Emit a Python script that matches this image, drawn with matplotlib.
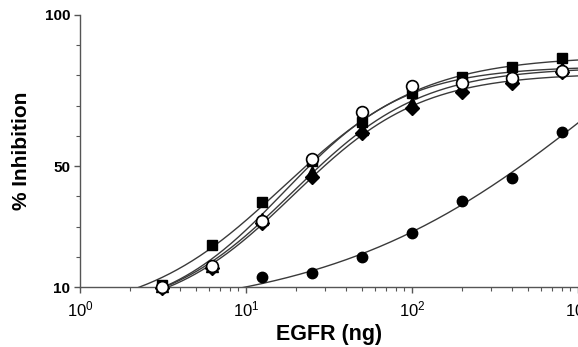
import numpy as np
import matplotlib
matplotlib.use("Agg")
import matplotlib.pyplot as plt
from matplotlib.ticker import LogLocator, FixedLocator, NullFormatter

plt.rcParams['font.family'] = ['Liberation Sans', 'DejaVu Sans']
plt.rcParams['mathtext.fontset'] = 'custom'
plt.rcParams['mathtext.rm'] = 'Liberation Sans'
plt.rcParams['mathtext.default'] = 'regular'

# EGFR amounts (ng)
egfr = [3.125, 6.25, 12.5, 25, 50, 100, 200, 400, 800]
egfr_low = [12.5, 25, 50, 100, 200, 400, 800]

# % inhibition per series
squares   = [10.8, 23.9, 38.1, 51.7, 64.6, 74.2, 79.5, 82.8, 85.8]
open_circ = [10.0, 16.8, 32.0, 52.4, 68.0, 76.6, 77.5, 79.0, 81.5]
triangles = [10.2, 17.0, 32.5, 48.0, 62.3, 70.9, 76.2, 80.0, 82.5]
diamonds  = [9.8, 16.3, 31.2, 46.4, 61.0, 69.3, 74.6, 77.5, 81.0]
filled_circ = [13.3, 14.6, 19.9, 27.9, 38.5, 46.1, 61.3]


def fit_hill(x, y, hmin, hmax, tmax):
    """Least-squares fit of a Hill curve with bottom fixed at 0."""
    x = np.asarray(x, float)
    y = np.asarray(y, float)
    le = np.arange(0.0, 4.5, 0.005)
    hs = np.arange(hmin, hmax, 0.01)
    LE, H = np.meshgrid(le, hs, indexing='ij')
    LE = LE.ravel()[:, None]
    H = H.ravel()[:, None]
    f = 1.0 / (1.0 + (10 ** LE / x[None, :]) ** H)
    t = (f * y).sum(1) / (f * f).sum(1)
    t = np.minimum(t, tmax)
    sse = ((t[:, None] * f - y[None, :]) ** 2).sum(1)
    i = np.argmin(sse)
    return t[i], 10 ** LE[i, 0], H[i, 0]


def curve(params, xs):
    t, ec, h = params
    return t / (1.0 + (ec / xs) ** h)


fig = plt.figure(figsize=(5.78, 3.47), dpi=100)
ax = fig.add_axes([0.1384, 0.1729, 0.8616, 0.7839])

xs = np.logspace(0, 3, 400)
lc = '#3a3a3a'
series = [
    (squares, egfr, (0.4, 1.2, 100), dict(marker='s', mfc='black', mec='black', ms=7)),
    (triangles, egfr, (0.4, 1.2, 100), dict(marker='^', mfc='black', mec='black', ms=8)),
    (diamonds, egfr, (0.4, 1.2, 100), dict(marker='D', mfc='black', mec='black', ms=7)),
    (open_circ, egfr, (0.4, 1.2, 100), dict(marker='o', mfc='white', mec='black', ms=8.5, mew=1.2)),
    (filled_circ, egfr_low, (0.4, 1.2, 150), dict(marker='o', mfc='black', mec='black', ms=7.5)),
]
for yv, xv, fp, st in series:
    p = fit_hill(xv, yv, *fp)
    ax.plot(xs, curve(p, xs), color=lc, lw=1.0, zorder=2)
for yv, xv, fp, st in series:
    ax.plot(xv, yv, linestyle='none', zorder=3, clip_on=False, **st)

ax.set_xscale('log')
ax.set_xlim(1, 1000)
ax.set_ylim(10, 100)

ax.spines['top'].set_visible(False)
ax.spines['right'].set_visible(False)
for s in ('left', 'bottom'):
    ax.spines[s].set_color('#555555')
    ax.spines[s].set_linewidth(1.0)

ax.xaxis.set_major_locator(LogLocator(base=10, numticks=10))
ax.xaxis.set_minor_locator(LogLocator(base=10, subs=np.arange(2, 10), numticks=20))
ax.xaxis.set_minor_formatter(NullFormatter())
ax.yaxis.set_major_locator(FixedLocator([10, 50, 100]))
ax.yaxis.set_minor_locator(FixedLocator([20, 30, 40, 60, 70, 80, 90]))

ax.tick_params(axis='both', which='major', direction='out', length=4, width=1, color='#555555')
ax.tick_params(axis='both', which='minor', direction='out', length=3, width=0.8, color='#555555')
ax.tick_params(axis='x', which='major', labelsize=12, pad=5)
ax.tick_params(axis='y', which='major', labelsize=11, pad=3)
for lab in ax.get_yticklabels():
    lab.set_fontweight('bold')

ax.set_xlabel('EGFR (ng)', fontsize=15.5, fontweight='bold', labelpad=3)
ax.set_ylabel('% Inhibition', fontsize=15, fontweight='bold', labelpad=10)

fig.savefig('out.png', dpi=100)
